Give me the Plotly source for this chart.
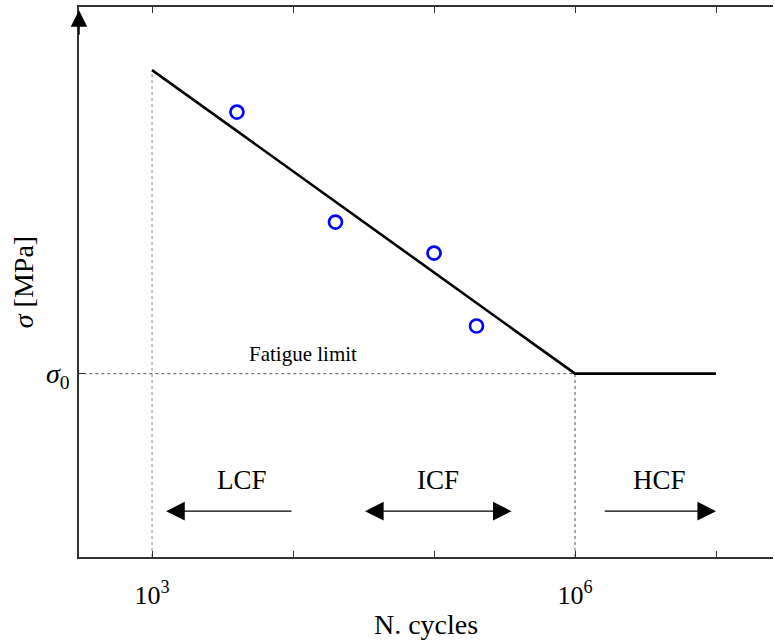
import math
import plotly.graph_objects as go

# S-N curve: sloped branch down to the fatigue limit, then flat
curve_n = [1e3, 1e6, 1e7]
curve_s = [265.6, 100.0, 100.0]

# experimental points
test_n = [4.0e3, 2.0e4, 1.0e5, 2.0e5]
test_s = [242.7, 182.7, 165.8, 126.0]

sigma0 = 100.0
n_knee = 1e6
n_start = 1e3

tick_vals = [1e3, 1e6]
tick_text = ["10<sup>3</sup>", "10<sup>6</sup>"]
unlabelled_ticks = [1e4, 1e5, 1e7]

# regime labels and their arrows (tail, head in cycles)
regimes = ["LCF", "ICF", "HCF"]
regime_label_n = [10**3.64, 10**5.03, 10**6.6]
regime_tail_n = [1e4, 10**4.5, 10**6.2]
regime_head_n = [10**3.1, 10**5.55, 1e7]
regime_both = [False, True, False]

FONT = "Liberation Serif, Times New Roman, serif"

fig = go.Figure()

# dotted guides
fig.add_trace(go.Scatter(x=[n_start, n_start], y=[0, curve_s[0]], mode="lines",
                         line=dict(color="#888", width=1, dash="dot"), hoverinfo="skip"))
fig.add_trace(go.Scatter(x=[n_knee, n_knee], y=[0, sigma0], mode="lines",
                         line=dict(color="#555", width=1, dash="dot"), hoverinfo="skip"))
fig.add_trace(go.Scatter(x=[10**2.3, n_knee], y=[sigma0, sigma0], mode="lines",
                         line=dict(color="#555", width=1, dash="dot"), hoverinfo="skip"))

fig.add_trace(go.Scatter(x=curve_n, y=curve_s, mode="lines",
                         line=dict(color="black", width=2.6), hoverinfo="skip"))
fig.add_trace(go.Scatter(x=test_n, y=test_s, mode="markers",
                         marker=dict(symbol="circle-open", size=13, color="#0000ff",
                                     line=dict(width=2.7, color="#0000ff")),
                         hoverinfo="skip"))

annotations = []
arrow_y = 25
label_y = 42

for name, xl, xt, xh, both in zip(regimes, regime_label_n, regime_tail_n,
                                  regime_head_n, regime_both):
    annotations.append(dict(x=math.log10(xh), y=arrow_y, ax=math.log10(xt), ay=arrow_y,
                            xref="x", yref="y", axref="x", ayref="y",
                            showarrow=True, arrowhead=2, arrowsize=3.1, arrowwidth=1.2,
                            arrowside="end+start" if both else "end",
                            arrowcolor="black", text=""))
    annotations.append(dict(x=math.log10(xl), y=label_y, xref="x", yref="y", text=name,
                            showarrow=False, font=dict(family=FONT, size=27, color="black")))

annotations.append(dict(x=4.07, y=111, xref="x", yref="y", text="Fatigue limit",
                        showarrow=False, font=dict(family=FONT, size=21, color="black")))

# arrow tip on the vertical axis
annotations.append(dict(x=0, y=0.994, xref="paper", yref="paper", ax=0, ay=26,
                        showarrow=True, arrowhead=2, arrowsize=2.2, arrowwidth=1.5,
                        arrowcolor="black", text=""))

fig.update_layout(
    width=774, height=640,
    margin=dict(l=79, r=1, t=7, b=83),
    plot_bgcolor="white", paper_bgcolor="white",
    showlegend=False,
    font=dict(family=FONT, size=20, color="black"),
    annotations=annotations,
    xaxis=dict(type="log", range=[2.482, 7.404], tickvals=tick_vals, ticktext=tick_text,
               ticks="inside", ticklen=6, tickwidth=1.2, tickcolor="#333",
               minor=dict(tickvals=unlabelled_ticks, ticks="inside", ticklen=6,
                          tickwidth=1.2, tickcolor="#333", showgrid=False),
               showline=True, linecolor="#333", linewidth=1.5, mirror="ticks",
               showgrid=False, zeroline=False,
               tickfont=dict(family=FONT, size=26), ticklabelstandoff=14,
               title=dict(text="N. cycles", font=dict(family=FONT, size=28), standoff=9)),
    yaxis=dict(range=[0, 300], tickvals=[sigma0],
               ticktext=["<i>σ</i><sub>0</sub>"],
               ticks="inside", ticklen=6, tickwidth=1.2, tickcolor="#333",
               showline=True, linecolor="#333", linewidth=1.5, mirror=False,
               showgrid=False, zeroline=False,
               tickfont=dict(family=FONT, size=28), ticklabelstandoff=2,
               title=dict(text="<i>σ</i> [MPa]", font=dict(family=FONT, size=28), standoff=4)),
)

fig.write_html("out.html")
